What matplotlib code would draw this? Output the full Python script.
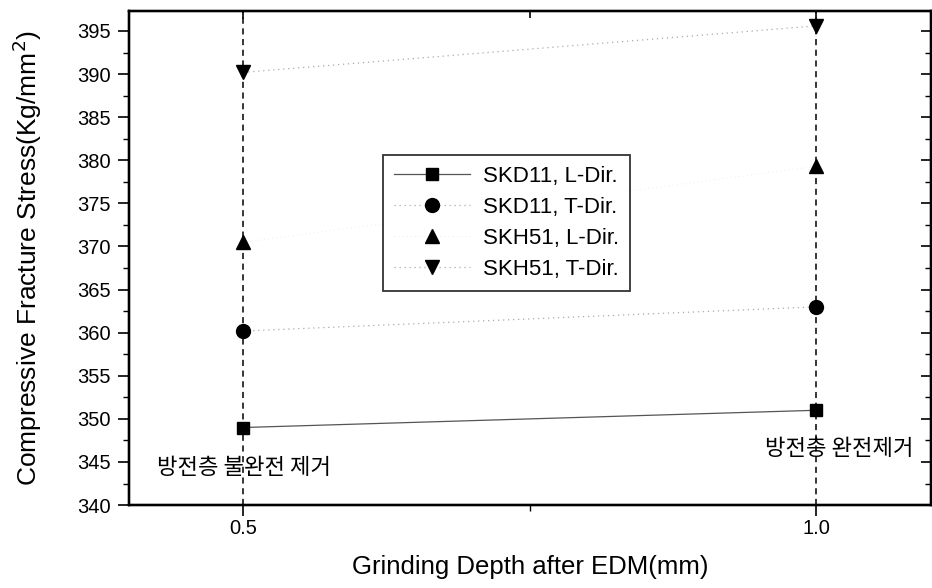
import matplotlib
matplotlib.use('Agg')
import matplotlib.pyplot as plt
from matplotlib.ticker import MultipleLocator

plt.rcParams['font.family'] = ['Liberation Sans', 'Noto Sans CJK KR', 'DejaVu Sans']

# data
depth = [0.5, 1.0]
skd11_l = [349.0, 351.0]
skd11_t = [360.2, 363.0]
skh51_l = [370.5, 379.3]
skh51_t = [390.2, 395.6]
labels = ['SKD11, L-Dir.', 'SKD11, T-Dir.', 'SKH51, L-Dir.', 'SKH51, T-Dir.']
note_left = '방전층 불완전 제거'
note_right = '방전층 완전제거'

fig = plt.figure(figsize=(9.32, 5.88), dpi=100)
ax = fig.add_axes([0.138, 0.141, 0.861, 0.84])

for xv in depth:
    ax.axvline(xv, color='black', linestyle=(0, (4, 3)), linewidth=1.1, zorder=1)

ax.plot(depth, skd11_l, color='#555555', linestyle='-', linewidth=0.9,
        marker='s', markersize=8, markerfacecolor='black', markeredgecolor='black', label=labels[0])
ax.plot(depth, skd11_t, color='#aaaaaa', linestyle=(0, (1, 3)), linewidth=0.9,
        marker='o', markersize=10, markerfacecolor='black', markeredgecolor='black', label=labels[1])
ax.plot(depth, skh51_l, color='#e4e4e4', linestyle=(0, (1, 4)), linewidth=0.6,
        marker='^', markersize=10, markerfacecolor='black', markeredgecolor='black', label=labels[2])
ax.plot(depth, skh51_t, color='#aaaaaa', linestyle=(0, (1, 3)), linewidth=0.9,
        marker='v', markersize=10, markerfacecolor='black', markeredgecolor='black', label=labels[3])

ax.set_xlim(0.4, 1.1)
ax.set_ylim(340, 397.3)
ax.set_xticks([0.5, 1.0])
ax.set_xticklabels(['0.5', '1.0'])
ax.xaxis.set_minor_locator(MultipleLocator(0.25))
ax.yaxis.set_major_locator(MultipleLocator(5))
ax.yaxis.set_minor_locator(MultipleLocator(2.5))

ax.tick_params(axis='both', which='major', direction='out', length=8, width=1.2,
               labelsize=14.5, pad=5)
ax.tick_params(axis='x', which='major', pad=2)
ax.tick_params(axis='both', which='minor', direction='out', length=4, width=1.0)

# inward ticks on the right and top, like the original
ax2 = ax.twinx()
ax2.set_ylim(ax.get_ylim())
ax2.yaxis.set_major_locator(MultipleLocator(5))
ax2.yaxis.set_minor_locator(MultipleLocator(2.5))
ax2.tick_params(axis='y', which='major', direction='in', length=7, width=1.2, labelright=False)
ax2.tick_params(axis='y', which='minor', direction='in', length=4, width=1.0)
ax3 = ax.twiny()
ax3.set_xlim(ax.get_xlim())
ax3.set_xticks([0.5, 1.0])
ax3.xaxis.set_minor_locator(MultipleLocator(0.25))
ax3.tick_params(axis='x', which='major', direction='in', length=6, width=1.2, labeltop=False)
ax3.tick_params(axis='x', which='minor', direction='in', length=5, width=1.2)
for a in (ax, ax2, ax3):
    for sp in a.spines.values():
        sp.set_linewidth(1.6)

ax.set_xlabel('Grinding Depth after EDM(mm)', fontsize=18.5, labelpad=12)
ax.set_ylabel('Compressive Fracture Stress(Kg/mm$^2$)', fontsize=19, labelpad=24)

ax.text(0.425, 343.6, note_left, fontsize=16, family=['Noto Sans CJK KR', 'DejaVu Sans'])
ax.text(1.085, 345.8, note_right, fontsize=16, ha='right', family=['Noto Sans CJK KR', 'DejaVu Sans'])

leg = ax.legend(loc='upper left', bbox_to_anchor=(0.303, 0.731), fontsize=16,
                frameon=True, fancybox=False, edgecolor='black', handlelength=3.4,
                handletextpad=0.6, numpoints=1, labelspacing=0.45, borderpad=0.5)
leg.get_frame().set_linewidth(1.3)
leg.set_zorder(5)

fig.savefig('out.png', dpi=100)
